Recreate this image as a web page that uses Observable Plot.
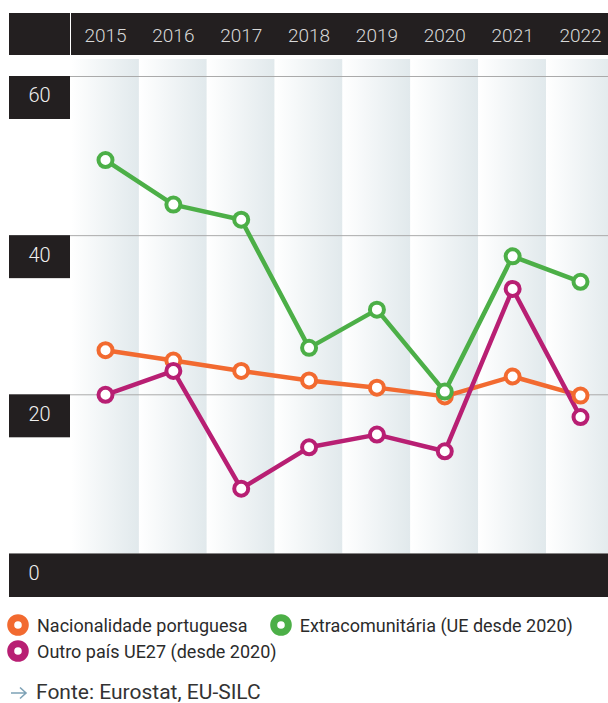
<!DOCTYPE html>
<html>
<head>
<meta charset="utf-8">
<script src="https://cdn.jsdelivr.net/npm/d3@7"></script>
<script src="https://cdn.jsdelivr.net/npm/@observablehq/plot@0.6"></script>
<style>
  html, body { margin: 0; padding: 0; background: #fff; width: 608px; height: 703px; overflow: hidden; position: relative; }
  #chart svg { display: block; overflow: hidden; }
  .legend { position: absolute; left: 7px; font-family: Roboto, sans-serif; font-size: 18px; color: #2b2b2b; }
  .row { display: flex; align-items: center; height: 26px; white-space: nowrap; }
  .item { display: flex; align-items: center; }
  .item svg { margin-right: 8px; }
  .source { position: absolute; left: 10px; top: 682px; height: 21px; display: flex; align-items: center; font-family: Roboto, sans-serif; font-size: 21px; line-height: 21px; color: #333; white-space: nowrap; }
  .source svg { margin-right: 8px; }
</style>
</head>
<body>
<div id="chart"></div>
<div class="legend" id="legend" style="top:612px"></div>
<div class="source"><svg width="18" height="14"><path d="M1 7 H16 M10 1.5 L16 7 L10 12.5" fill="none" stroke="#7ea2b6" stroke-width="1.6"/></svg><span>Fonte: Eurostat, EU-SILC</span></div>
<script>
// ---- data ----
const years = [2015, 2016, 2017, 2018, 2019, 2020, 2021, 2022];
const seriesNames = ["Nacionalidade portuguesa", "Extracomunitária (UE desde 2020)", "Outro país UE27 (desde 2020)"];
const seriesColors = ["#f26a30", "#4caf47", "#b81f73"];
const portuguesa = [25.6, 24.3, 23.0, 21.8, 20.9, 19.8, 22.3, 19.9];
const extracomunitaria = [49.5, 43.9, 42.0, 25.9, 30.7, 20.4, 37.4, 34.2];
const outroUE27 = [20.0, 23.0, 8.2, 13.4, 15.0, 12.9, 33.3, 17.2];
const yTicks = [0, 20, 40, 60];

const seriesValues = [portuguesa, extracomunitaria, outroUE27];
const rows = [];
seriesNames.forEach((s, i) => years.forEach((y, j) => rows.push({series: s, year: y, value: seriesValues[i][j]})));

// ---- layout helpers (pixel -> scale value) ----
const X = p => 2015 + (p - 105) * 7 / 475;
const Y = p => (553.45 - p) * 60 / 477.45;
const dark = "#231f20";

const chart = Plot.plot({
  width: 608,
  height: 600,
  margin: 0,
  x: {type: "linear", domain: [2015, 2022], range: [105, 580], axis: null},
  y: {domain: [0, 60], range: [553.45, 76], axis: null},
  color: {domain: seriesNames, range: seriesColors},
  style: {fontFamily: "Roboto, sans-serif", background: "white"},
  marks: [
    // column bands
    Plot.rect(years, {x1: d => d - 0.5, x2: d => d + 0.5, y1: 0, y2: Y(59), fill: "url(#colgrad)"}),
    // grid lines
    Plot.ruleY(yTicks.filter(d => d > 0), {x1: X(70), x2: X(608), stroke: "#aaaaaa", strokeWidth: 1}),
    // header bar
    Plot.rect([0], {x1: X(9), x2: X(70), y1: Y(55), y2: Y(13), fill: dark}),
    Plot.rect([0], {x1: X(71), x2: X(612), y1: Y(55), y2: Y(13), fill: dark}),
    Plot.text(years, {x: d => d, y: Y(35), text: d => String(d), fill: "#d8d8d8", fontSize: 19, fontWeight: 300}),
    // bottom zero bar
    Plot.rect([0], {x1: X(9), x2: X(612), y1: 0, y2: Y(597), fill: dark}),
    // y label boxes
    Plot.rect(yTicks.filter(d => d > 0), {x1: X(9), x2: X(70), y1: d => d, y2: d => d - 43 * 60 / 477.45, fill: dark}),
    Plot.text(yTicks, {x: X(28), y: d => d, dy: 19.5, text: d => String(d), textAnchor: "start", fill: "#f0f0f0", fontSize: 20, fontWeight: 300}),
    // series
    Plot.line(rows, {x: "year", y: "value", z: "series", stroke: "series", strokeWidth: 4.5, strokeLinejoin: "round"}),
    Plot.dot(rows, {x: "year", y: "value", stroke: "series", fill: "white", r: 7, strokeWidth: 4})
  ]
});

// gradient for the column bands
const svg = d3.select(chart);
const defs = svg.insert("defs", ":first-child");
const g = defs.append("linearGradient").attr("id", "colgrad").attr("x1", 0).attr("x2", 1).attr("y1", 0).attr("y2", 0);
g.append("stop").attr("offset", 0).attr("stop-color", "#ffffff");
g.append("stop").attr("offset", 1).attr("stop-color", "#e1e9ec");

document.getElementById("chart").appendChild(chart);

// legend
const legend = d3.select("#legend");
const ring = c => `<svg width="22" height="22"><circle cx="11" cy="11" r="7.3" fill="white" stroke="${c}" stroke-width="7"/></svg>`;
const row1 = legend.append("div").attr("class", "row");
row1.append("div").attr("class", "item").html(ring(seriesColors[0]) + `<span>${seriesNames[0]}</span>`);
row1.append("div").attr("class", "item").style("margin-left", "22px").html(ring(seriesColors[1]) + `<span>${seriesNames[1]}</span>`);
const row2 = legend.append("div").attr("class", "row");
row2.append("div").attr("class", "item").html(ring(seriesColors[2]) + `<span>${seriesNames[2]}</span>`);
</script>
</body>
</html>
